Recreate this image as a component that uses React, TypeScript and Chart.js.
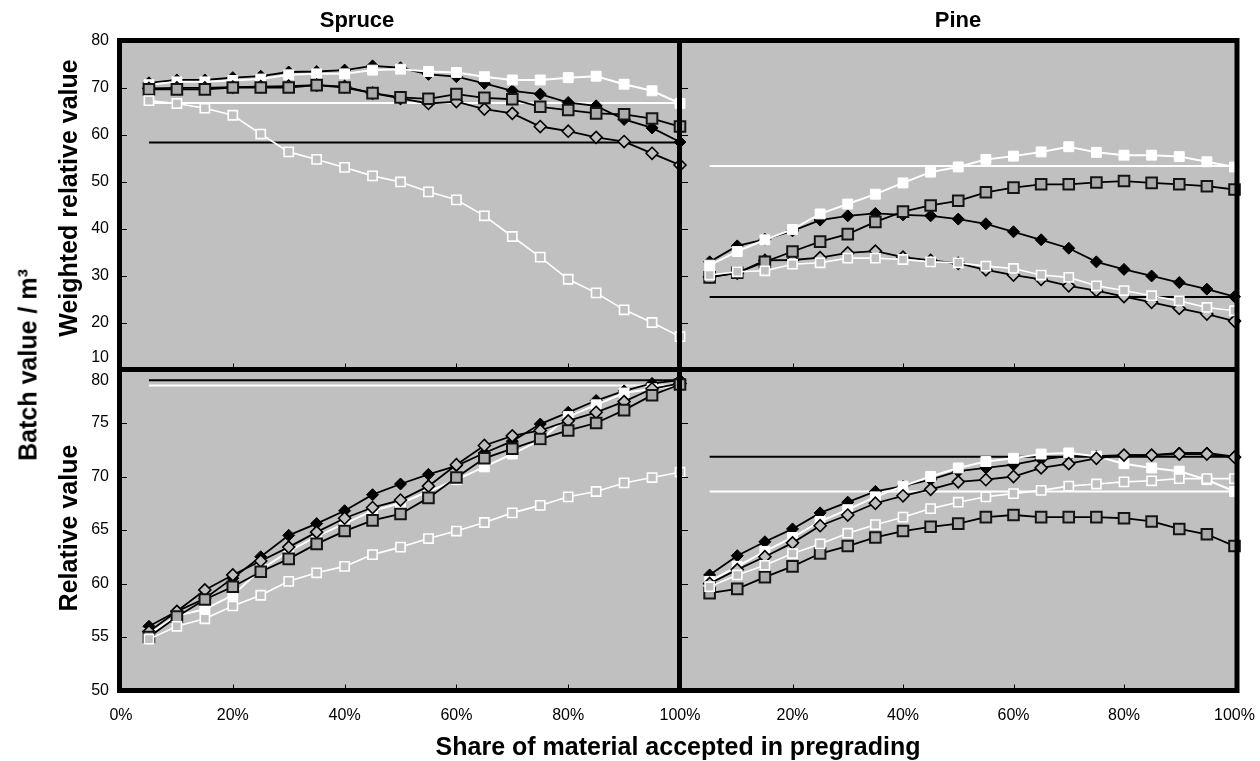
import React, { useEffect, useRef } from "react";
import { Chart, registerables } from "chart.js";

Chart.register(...registerables);

const W = 1260;
const H = 761;
const FONT = '"Liberation Sans", Arial, Helvetica, sans-serif';
const BG = "#c0c0c0";

// ---------- data ----------
const shares = [5, 10, 15, 20, 25, 30, 35, 40, 45, 50, 55, 60, 65, 70, 75, 80, 85, 90, 95, 100];
const xTickValues = [0, 20, 40, 60, 80, 100];
const xTickLabelsLeft = ["0%", "20%", "40%", "60%", "80%", "100%"];
const xTickLabelsRight = ["", "20%", "40%", "60%", "80%", "100%"];
const topYTicks = [10, 20, 30, 40, 50, 60, 70, 80];
const topYLabels = ["10", "20", "30", "40", "50", "60", "70", "80"];
const bottomYTicks = [50, 55, 60, 65, 70, 75, 80];
const bottomYLabels = ["50", "55", "60", "65", "70", "75", "80"];

// Spruce – weighted relative value
const spruceWBlackDiamond = [71.0, 71.6, 71.6, 72.1, 72.4, 73.3, 73.4, 73.7, 74.6, 74.2, 72.8, 72.3, 70.9, 69.3, 68.6, 66.8, 66.1, 63.2, 61.4, 58.4];
const spruceWWhiteSquare = [70.6, 71.2, 71.2, 71.5, 71.8, 72.7, 72.9, 72.9, 73.7, 73.9, 73.4, 73.2, 72.3, 71.6, 71.6, 72.1, 72.4, 70.7, 69.3, 66.6];
const spruceWOpenDiamond = [69.8, 69.9, 69.9, 70.1, 70.2, 70.3, 70.5, 70.2, 68.8, 67.7, 66.6, 67.0, 65.4, 64.5, 61.7, 60.7, 59.4, 58.5, 56.0, 53.5];
const spruceWGraySquare = [69.6, 69.6, 69.6, 70.0, 70.0, 70.0, 70.5, 70.0, 68.8, 67.9, 67.6, 68.6, 67.8, 67.5, 65.9, 65.2, 64.5, 64.3, 63.4, 61.7];
const spruceWOpenSquare = [67.2, 66.6, 65.6, 64.1, 60.1, 56.3, 54.7, 53.0, 51.2, 49.9, 47.8, 46.1, 42.7, 38.3, 33.9, 29.2, 26.3, 22.7, 20.0, 17.0];
const spruceWRefBlack = 58.3;
const spruceWRefWhite = 66.7;

// Pine – weighted relative value
const pineWBlackDiamond = [32.9, 36.3, 37.7, 39.5, 41.8, 42.7, 43.2, 42.9, 42.7, 42.0, 41.0, 39.3, 37.6, 35.8, 32.9, 31.3, 29.9, 28.5, 27.1, 25.5];
const pineWWhiteSquare = [32.2, 35.1, 37.6, 39.8, 43.1, 45.2, 47.3, 49.7, 52.0, 53.1, 54.7, 55.4, 56.3, 57.4, 56.2, 55.6, 55.6, 55.3, 54.2, 53.1];
const pineWOpenDiamond = [29.7, 30.5, 33.2, 33.3, 33.8, 34.8, 35.2, 33.9, 33.2, 32.6, 31.2, 30.1, 29.2, 27.8, 26.8, 25.5, 24.3, 23.0, 21.8, 20.3];
const pineWGraySquare = [29.6, 30.6, 32.9, 35.1, 37.2, 38.8, 41.4, 43.6, 44.9, 45.9, 47.7, 48.7, 49.4, 49.4, 49.8, 50.1, 49.7, 49.4, 49.0, 48.3];
const pineWOpenSquare = [30.1, 30.8, 31.0, 32.4, 32.7, 33.7, 33.7, 33.4, 32.9, 32.7, 32.0, 31.5, 30.1, 29.6, 27.8, 26.8, 25.7, 24.6, 23.2, 22.5];
const pineWRefBlack = 25.4;
const pineWRefWhite = 53.3;

// Spruce – relative value
const spruceRBlackDiamond = [56.0, 57.4, 58.6, 60.5, 62.5, 64.5, 65.6, 66.8, 68.3, 69.3, 70.2, 71.0, 72.2, 73.3, 74.9, 76.0, 77.1, 78.0, 78.7, 79.0];
const spruceRWhiteSquare = [55.3, 57.0, 57.6, 58.9, 61.3, 63.0, 64.4, 65.6, 66.8, 67.5, 68.6, 69.7, 70.9, 72.1, 73.4, 75.6, 76.7, 77.8, 78.2, 78.5];
const spruceROpenDiamond = [55.5, 57.4, 59.4, 60.8, 62.1, 63.4, 64.8, 66.1, 67.1, 67.8, 69.1, 71.1, 72.9, 73.8, 74.3, 75.2, 76.0, 77.0, 78.2, 78.7];
const spruceRGraySquare = [55.0, 56.9, 58.5, 59.7, 61.1, 62.3, 63.7, 64.9, 65.9, 66.5, 68.0, 69.9, 71.7, 72.6, 73.5, 74.3, 75.0, 76.2, 77.6, 78.6];
const spruceROpenSquare = [54.8, 56.0, 56.7, 57.9, 58.9, 60.2, 61.0, 61.6, 62.7, 63.4, 64.2, 64.9, 65.7, 66.6, 67.3, 68.1, 68.6, 69.4, 69.9, 70.4];
const spruceRRefBlack = 79.0;
const spruceRRefWhite = 78.5;

// Pine – relative value
const pineRBlackDiamond = [60.8, 62.6, 63.9, 65.1, 66.6, 67.6, 68.6, 69.1, 69.7, 70.5, 70.8, 71.1, 71.6, 71.9, 71.9, 72.0, 72.0, 72.2, 72.2, 71.85];
const pineRWhiteSquare = [60.2, 61.6, 63.0, 64.3, 65.8, 66.9, 68.1, 69.1, 70.0, 70.8, 71.4, 71.7, 72.1, 72.2, 71.9, 71.2, 70.8, 70.5, 69.7, 68.6];
const pineROpenDiamond = [60.0, 61.3, 62.5, 63.8, 65.4, 66.4, 67.5, 68.2, 68.8, 69.5, 69.7, 70.0, 70.8, 71.2, 71.7, 72.0, 72.0, 72.1, 72.1, 71.8];
const pineRGraySquare = [59.1, 59.5, 60.6, 61.6, 62.8, 63.5, 64.3, 64.9, 65.3, 65.6, 66.2, 66.4, 66.2, 66.2, 66.2, 66.1, 65.8, 65.1, 64.6, 63.5];
const pineROpenSquare = [59.7, 60.8, 61.7, 62.8, 63.7, 64.7, 65.5, 66.2, 67.0, 67.6, 68.1, 68.4, 68.7, 69.1, 69.3, 69.5, 69.6, 69.8, 69.8, 69.8];
const pineRRefBlack = 71.85;
const pineRRefWhite = 68.6;

// ---------- layout ----------
const FRAME = { left: 119.5, right: 1237, top: 40.5, bottom: 690.5, midX: 679.5, midY: 369.5, width: 5 };

type PanelDef = {
  key: string;
  area: { left: number; right: number; top: number; bottom: number };
  yMin: number;
  yMax: number;
  yTicks: number[];
  yLabels: string[] | null;
  yLabelShift: Record<string, number>;
  xLabels: string[] | null;
  black: number[];
  white: number[];
  openD: number[];
  gray: number[];
  openS: number[];
  refBlack: number;
  refWhite: number;
};

const panels: PanelDef[] = [
  {
    key: "spruceW",
    area: { left: 121, right: 680, top: 40.5, bottom: 369.5 },
    yMin: 10, yMax: 80, yTicks: topYTicks, yLabels: topYLabels, yLabelShift: { "10": -11.5 }, xLabels: null,
    black: spruceWBlackDiamond, white: spruceWWhiteSquare, openD: spruceWOpenDiamond, gray: spruceWGraySquare, openS: spruceWOpenSquare,
    refBlack: spruceWRefBlack, refWhite: spruceWRefWhite,
  },
  {
    key: "pineW",
    area: { left: 682, right: 1234.5, top: 40.5, bottom: 369.5 },
    yMin: 10, yMax: 80, yTicks: topYTicks, yLabels: null, yLabelShift: {}, xLabels: null,
    black: pineWBlackDiamond, white: pineWWhiteSquare, openD: pineWOpenDiamond, gray: pineWGraySquare, openS: pineWOpenSquare,
    refBlack: pineWRefBlack, refWhite: pineWRefWhite,
  },
  {
    key: "spruceR",
    area: { left: 121, right: 680, top: 369.5, bottom: 690.5 },
    yMin: 50, yMax: 80, yTicks: bottomYTicks, yLabels: bottomYLabels, yLabelShift: { "80": 11.5 }, xLabels: xTickLabelsLeft,
    black: spruceRBlackDiamond, white: spruceRWhiteSquare, openD: spruceROpenDiamond, gray: spruceRGraySquare, openS: spruceROpenSquare,
    refBlack: spruceRRefBlack, refWhite: spruceRRefWhite,
  },
  {
    key: "pineR",
    area: { left: 682, right: 1234.5, top: 369.5, bottom: 690.5 },
    yMin: 50, yMax: 80, yTicks: bottomYTicks, yLabels: null, yLabelShift: {}, xLabels: xTickLabelsRight,
    black: pineRBlackDiamond, white: pineRWhiteSquare, openD: pineROpenDiamond, gray: pineRGraySquare, openS: pineROpenSquare,
    refBlack: pineRRefBlack, refWhite: pineRRefWhite,
  },
];

const pts = (vals: number[]) => shares.map((s, i) => ({ x: s, y: vals[i] }));
const refPts = (v: number) => [{ x: shares[0], y: v }, { x: shares[shares.length - 1], y: v }];

function buildDatasets(p: PanelDef) {
  // dataset 0 is drawn on top
  return [
    {
      label: "open square", data: pts(p.openS), borderColor: "#ffffff", borderWidth: 1.6,
      pointStyle: "rect", pointRadius: 6.5, pointBackgroundColor: BG, pointBorderColor: "#ffffff", pointBorderWidth: 1.6, clip: false,
    },
    {
      label: "grey square", data: pts(p.gray), borderColor: "#000000", borderWidth: 1.8,
      pointStyle: "rect", pointRadius: 7.5, pointBackgroundColor: "#ababab", pointBorderColor: "#141414", pointBorderWidth: 2, clip: false,
    },
    {
      label: "open diamond", data: pts(p.openD), borderColor: "#000000", borderWidth: 1.8,
      pointStyle: "rectRot", pointRadius: 6, pointBackgroundColor: BG, pointBorderColor: "#000000", pointBorderWidth: 1.6, clip: false,
    },
    {
      label: "white square", data: pts(p.white), borderColor: "#ffffff", borderWidth: 2,
      pointStyle: "rect", pointRadius: 7, pointBackgroundColor: "#ffffff", pointBorderColor: "#ffffff", pointBorderWidth: 1, clip: false,
    },
    {
      label: "black diamond", data: pts(p.black), borderColor: "#000000", borderWidth: 1.8,
      pointStyle: "rectRot", pointRadius: 6, pointBackgroundColor: "#000000", pointBorderColor: "#000000", pointBorderWidth: 1, clip: false,
    },
    {
      label: "reference white", data: refPts(p.refWhite), borderColor: "#ffffff", borderWidth: 2, pointRadius: 0, clip: false,
    },
    {
      label: "reference black", data: refPts(p.refBlack), borderColor: "#000000", borderWidth: 2, pointRadius: 0, clip: false,
    },
  ];
}

function decorPlugin(p: PanelDef, index: number) {
  return {
    id: "decor" + index,
    beforeDraw(chart: any) {
      if (index !== 0) return;
      const ctx = chart.ctx;
      ctx.save();
      ctx.fillStyle = BG;
      ctx.fillRect(FRAME.left, FRAME.top, FRAME.right - FRAME.left, FRAME.bottom - FRAME.top);
      ctx.restore();
    },
    afterDraw(chart: any) {
      const ctx = chart.ctx;
      const xs = chart.scales.x;
      const ys = chart.scales.y;
      const a = chart.chartArea;
      ctx.save();
      // tick marks (pointing inward)
      ctx.strokeStyle = "#000";
      ctx.lineWidth = 1;
      for (const v of p.yTicks) {
        const py = Math.round(ys.getPixelForValue(v)) + 0.5;
        ctx.beginPath();
        ctx.moveTo(a.left, py);
        ctx.lineTo(a.left + 6, py);
        ctx.stroke();
      }
      for (const v of xTickValues) {
        if (v === 0 || v === 100) continue;
        const px = Math.round(xs.getPixelForValue(v)) + 0.5;
        ctx.beginPath();
        ctx.moveTo(px, a.bottom);
        ctx.lineTo(px, a.bottom - 6);
        ctx.stroke();
      }
      // tick labels
      ctx.fillStyle = "#000";
      ctx.font = `16px ${FONT}`;
      if (p.yLabels) {
        ctx.textAlign = "right";
        ctx.textBaseline = "middle";
        p.yTicks.forEach((v, i) => {
          const lab = p.yLabels![i];
          const shift = p.yLabelShift[lab] || 0;
          ctx.fillText(lab, 109, ys.getPixelForValue(v) + shift);
        });
      }
      if (p.xLabels) {
        ctx.textAlign = "center";
        ctx.textBaseline = "middle";
        xTickValues.forEach((v, i) => {
          const lab = p.xLabels![i];
          if (!lab) return;
          ctx.fillText(lab, xs.getPixelForValue(v), 716);
        });
      }
      // frame drawn by the last (top-most) chart
      if (index === panels.length - 1) {
        ctx.strokeStyle = "#000";
        ctx.lineWidth = FRAME.width;
        ctx.strokeRect(FRAME.left, FRAME.top, FRAME.right - FRAME.left, FRAME.bottom - FRAME.top);
        ctx.beginPath();
        ctx.moveTo(FRAME.midX, FRAME.top);
        ctx.lineTo(FRAME.midX, FRAME.bottom);
        ctx.moveTo(FRAME.left, FRAME.midY);
        ctx.lineTo(FRAME.right, FRAME.midY);
        ctx.stroke();
      }
      ctx.restore();
    },
  };
}

function makeConfig(p: PanelDef, index: number): any {
  return {
    type: "line",
    data: { datasets: buildDatasets(p) },
    options: {
      animation: false,
      responsive: false,
      maintainAspectRatio: false,
      devicePixelRatio: 1,
      events: [],
      layout: {
        padding: {
          left: p.area.left,
          top: p.area.top,
          right: W - p.area.right,
          bottom: H - p.area.bottom,
        },
      },
      elements: { line: { tension: 0 } },
      scales: {
        x: { type: "linear", min: 0, max: 100, display: false },
        y: { type: "linear", min: p.yMin, max: p.yMax, display: false },
      },
      plugins: {
        legend: { display: false },
        tooltip: { enabled: false },
        title: { display: false },
      },
    },
    plugins: [decorPlugin(p, index)],
  };
}

const textBase: React.CSSProperties = {
  position: "absolute",
  fontFamily: FONT,
  fontWeight: "bold",
  color: "#000",
  whiteSpace: "nowrap",
  lineHeight: 1,
};

function Label({ text, cx, cy, size, rotate }: { text: React.ReactNode; cx: number; cy: number; size: number; rotate?: boolean }) {
  return (
    <div
      style={{
        ...textBase,
        left: cx,
        top: cy,
        fontSize: size,
        transform: `translate(-50%, -50%)${rotate ? " rotate(-90deg)" : ""}`,
      }}
    >
      {text}
    </div>
  );
}

export default function App() {
  const canvases = useRef<(HTMLCanvasElement | null)[]>([]);

  useEffect(() => {
    const charts = panels.map((p, i) => new Chart(canvases.current[i] as HTMLCanvasElement, makeConfig(p, i)));
    return () => charts.forEach((c) => c.destroy());
  }, []);

  return (
    <div style={{ position: "absolute", left: 0, top: 0, width: W, height: H, background: "#fff", overflow: "hidden" }}>
      {panels.map((p, i) => (
        <canvas
          key={p.key}
          ref={(el) => {
            canvases.current[i] = el;
          }}
          width={W}
          height={H}
          style={{ position: "absolute", left: 0, top: 0, width: W, height: H, display: "block" }}
        />
      ))}
      <Label text="Spruce" cx={357} cy={20} size={22} />
      <Label text="Pine" cx={958} cy={20} size={22} />
      <Label text="Weighted relative value" cx={68} cy={198} size={25} rotate />
      <Label text="Relative value" cx={68} cy={528} size={25} rotate />
      <Label text={<span>Batch value / m³</span>} cx={28} cy={365} size={25} rotate />
      <Label text="Share of material accepted in pregrading" cx={678} cy={746} size={25} />
    </div>
  );
}
